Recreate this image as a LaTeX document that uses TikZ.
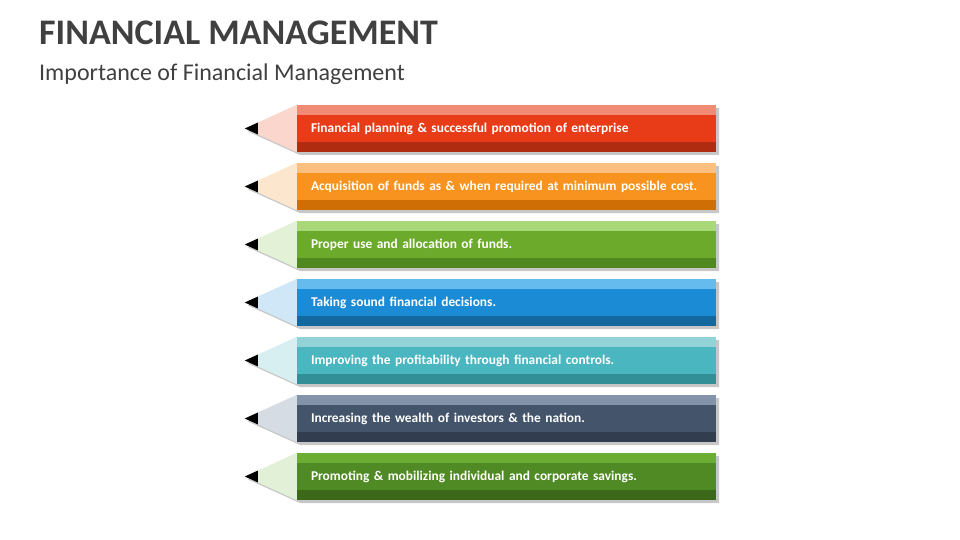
\documentclass[tikz,border=0pt]{standalone}
\usepackage{fontspec}
\setmainfont{Carlito}
\usetikzlibrary{calc}
\definecolor{titlegray}{HTML}{404040}
\definecolor{ltA}{HTML}{F28B76}\definecolor{mnA}{HTML}{E83C18}\definecolor{dkA}{HTML}{B02C10}\definecolor{wdA}{HTML}{FBD6CD}
\definecolor{ltB}{HTML}{FBBF80}\definecolor{mnB}{HTML}{F7931E}\definecolor{dkB}{HTML}{CF6E05}\definecolor{wdB}{HTML}{FDE6CE}
\definecolor{ltC}{HTML}{A8D878}\definecolor{mnC}{HTML}{6BAA2A}\definecolor{dkC}{HTML}{508820}\definecolor{wdC}{HTML}{E3F1D6}
\definecolor{ltD}{HTML}{66BBEE}\definecolor{mnD}{HTML}{1B8BD6}\definecolor{dkD}{HTML}{13689F}\definecolor{wdD}{HTML}{CFE7F7}
\definecolor{ltE}{HTML}{92D3D8}\definecolor{mnE}{HTML}{4AB6BF}\definecolor{dkE}{HTML}{338F97}\definecolor{wdE}{HTML}{D8EFF1}
\definecolor{ltF}{HTML}{8394AA}\definecolor{mnF}{HTML}{44546A}\definecolor{dkF}{HTML}{323E4F}\definecolor{wdF}{HTML}{D6DCE4}
\definecolor{ltG}{HTML}{6BAE33}\definecolor{mnG}{HTML}{4F8A24}\definecolor{dkG}{HTML}{3B6819}\definecolor{wdG}{HTML}{E1F0D6}
\tikzset{
  pencilbody/.style={minimum width=419pt, minimum height=47pt, inner xsep=14pt,
    inner ysep=0pt, text width=391pt, align=left, text=white,
    font=\fontsize{13.4}{15}\selectfont\bfseries},
  pencilshadow/.style={fill=black!22},
  heading/.style={anchor=base west, text=titlegray, inner sep=0pt}
}
\begin{document}
\begin{tikzpicture}[x=1pt, y=-1pt]
  \useasboundingbox (0,0) rectangle (960,540);
  \node[heading, font=\fontsize{36}{42}\selectfont\bfseries] (title) at (39,45) {FINANCIAL MANAGEMENT};
  \node[heading, font=\fontsize{24}{28}\selectfont] (subtitle) at (39,81) {Importance of Financial Management};
  \foreach \i/\c/\txt in {
    0/A/{Financial planning \& successful promotion of enterprise},
    1/B/{Acquisition of funds as \& when required at minimum possible cost.},
    2/C/{Proper use and allocation of funds.},
    3/D/{Taking sound financial decisions.},
    4/E/{Improving the profitability through financial controls.},
    5/F/{Increasing the wealth of investors \& the nation.},
    6/G/{Promoting \& mobilizing individual and corporate savings.}} {
    \pgfmathsetmacro\yc{128.5+58*\i}
    % shadow
    \fill[pencilshadow] (248,\yc+3) -- (300,\yc-20.5) -- (719,\yc-20.5)
      -- (719,\yc+26.5) -- (300,\yc+26.5) -- cycle;
    \node[pencilbody, fill=mn\c] (body\i) at (506.5,\yc) {\txt};
    \fill[lt\c] (body\i.north west) rectangle ([yshift=-10pt]body\i.north east);
    \fill[dk\c] (body\i.south west) rectangle ([yshift=10pt]body\i.south east);
    % wood and lead
    \coordinate (tip\i) at ([xshift=-52pt]body\i.west);
    \fill[wd\c] (body\i.north west) -- (body\i.south west) -- (tip\i) -- cycle;
    \fill[black] (tip\i) -- ($(tip\i)!0.25!(body\i.north west)$)
      -- ($(tip\i)!0.25!(body\i.south west)$) -- cycle;
  }
\end{tikzpicture}
\end{document}
